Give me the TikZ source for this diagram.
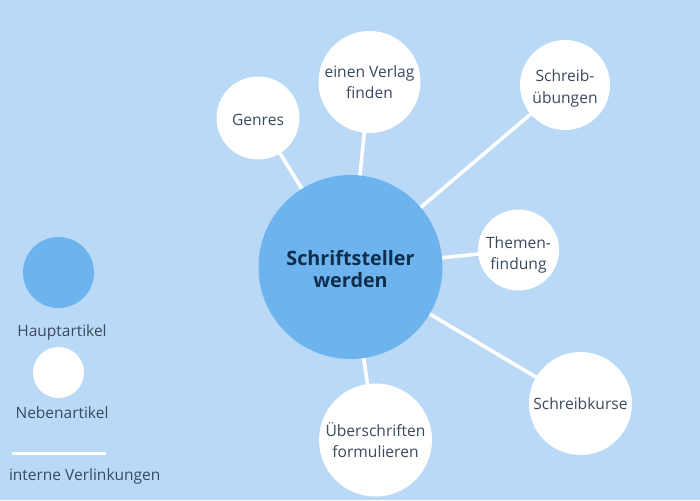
\documentclass[tikz,border=0pt]{standalone}
\usepackage{fontspec}
\setmainfont{Open Sans}
\usetikzlibrary{backgrounds}
\definecolor{bgblue}{HTML}{BAD9F7}
\definecolor{mainblue}{HTML}{6DB4EE}
\definecolor{titlecol}{HTML}{0F2E4E}
\definecolor{txtcol}{HTML}{3A4A5E}
\newcommand{\topstrut}[1]{\rule{0pt}{#1}}
\begin{document}
\begin{tikzpicture}[x=1pt,y=-1pt,
  every node/.style={inner sep=0pt, outer sep=0pt},
  hub/.style={circle, fill=mainblue, minimum size=#1, align=center, text=titlecol, font=\fontsize{19.8}{21.7}\selectfont\bfseries},
  sub/.style={circle, fill=white, minimum size=#1, align=center, text=txtcol, font=\fontsize{15.6}{21.5}\selectfont},
  legtxt/.style={anchor=base, text=txtcol, font=\fontsize{15.5}{18}\selectfont},
  link/.style={draw=white, line width=3.6pt}]
\useasboundingbox (0,0) rectangle (700,500);
% circles with their texts
\node[hub=184pt] (main) at (350.5,267) {\topstrut{19pt}Schriftsteller\\werden};
\node[sub=83pt] (genres) at (258,118) {\topstrut{14.3pt}Genres};
\node[sub=102pt] (verlag) at (369.5,82) {einen Verlag\\finden};
\node[sub=90pt] (uebung) at (565,85) {\topstrut{18.9pt}Schreib-\\übungen};
\node[sub=81pt] (themen) at (518.5,250) {\topstrut{21.9pt}Themen-\\findung};
\node[sub=103pt] (kurse) at (580.5,403.5) {\topstrut{12.9pt}Schreibkurse};
\node[sub=113pt] (ueber) at (375.5,440) {Überschriften\\formulieren};
% background and links
\begin{pgfonlayer}{background}
\fill[bgblue] (0,0) rectangle (700,500);
\path[link] (main.center) -- (genres.center);
\path[link] (main.center) -- (verlag.center);
\path[link] (main.center) -- (uebung.center);
\path[link] (main.center) -- (themen.center);
\path[link] (main.center) -- (kurse.center);
\path[link] (main.center) -- (ueber.center);
\end{pgfonlayer}
% legend
\node[hub=71pt] (leghaupt) at (58.5,272.5) {};
\node[legtxt] (labhaupt) at (62,336) {Hauptartikel};
\node[sub=51pt] (legneben) at (58.5,372.5) {};
\node[legtxt] (labneben) at (62,418.5) {Nebenartikel};
\coordinate (lineA) at (12,453);
\coordinate (lineB) at (106,453);
\draw[link, line width=3pt] (lineA) -- (lineB);
\node[legtxt] (labline) at (84.7,480.5) {interne Verlinkungen};
\end{tikzpicture}
\end{document}
